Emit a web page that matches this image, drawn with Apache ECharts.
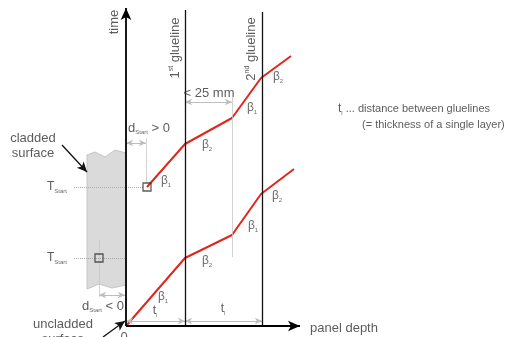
<!DOCTYPE html>
<html>
<head>
<meta charset="utf-8">
<script src="https://cdn.jsdelivr.net/npm/echarts@6/dist/echarts.min.js"></script>
<style>
  html, body { margin: 0; padding: 0; background: #fff; }
  #main { width: 518px; height: 337px; }
</style>
</head>
<body>
<div id="main"></div>
<script>
// depth (x) and time (y) in drawing units, origin = uncladded surface at time 0
const gluelineX = [59, 136];
const gluelineTop = [316, 314];
const lowerCurve = [[0, 0], [59, 68], [106, 91], [135, 132], [168, 157]];
const upperCurve = [[21, 139], [59, 182], [106, 208], [135, 248], [165, 270]];
const startPoints = [[21, 139], [-27, 68]];
const claddedOutline = [[-39, 171], [-31, 174], [-21, 169], [-11, 176], [0, 173],
  [0, 41], [-14, 38], [-27, 42], [-39, 37]];

// lines: [x1, y1, x2, y2]
const axisLines = [[0, 0, 0, 318], [0, 0, 174, 0]];
const pointerLines = [[-64, 181, -39, 154], [-23, -11, -1, 5]];
const dimLines = [[0, 183, 20, 183], [-27, 31, -1, 31], [59, 224, 106, 224], [0, 5, 59, 5], [59, 5, 136, 5]];
const extLines = [[20, 188, 20, 143], [-27, 86, -27, 29], [106, 229, 106, 69]];
const tStartLines = [[-52, 139, 17, 139], [-52, 68, -1, 68]];

// labels: [x, y, rich text, align, rotate]
const labels = [
  [-12, 304, '{n|time}', 'center', 90],
  [49, 278, '{n|1}{sup|st}{n| glueline}', 'center', 90],
  [125, 277, '{n|2}{sup|nd}{n| glueline}', 'center', 90],
  [83, 233, '{n|< 25 mm}', 'center', 0],
  [212, 217, '{t|t}{sub|l}{r| ... distance between gluelines}', 'left', 0],
  [236, 201, '{r|(= thickness of a single layer)}', 'left', 0],
  [-93, 180, '{n|cladded}\n{n|surface}', 'center', 0],
  [2, 198, '{n|d}{sub|Start}{n| > 0}', 'left', 0],
  [-44, 20, '{n|d}{sub|Start}{n| < 0}', 'left', 0],
  [-79, 139, '{t|T}{sub|Start}', 'left', 0],
  [-79, 68, '{t|T}{sub|Start}', 'left', 0],
  [-63, -6, '{n|uncladded}\n{n|surface}', 'center', 0],
  [-2, -11, '{n|0}', 'center', 0],
  [184, -2, '{n|panel depth}', 'left', 0],
  [29, 15, '{t|t}{sub|l}', 'center', 0],
  [97, 17, '{t|t}{sub|l}', 'center', 0],
  [37, 29, '{b|β}{sub|1}', 'center', 0],
  [81, 65, '{b|β}{sub|2}', 'center', 0],
  [127, 100, '{b|β}{sub|1}', 'center', 0],
  [151, 130, '{b|β}{sub|2}', 'center', 0],
  [40, 145, '{b|β}{sub|1}', 'center', 0],
  [81, 181, '{b|β}{sub|2}', 'center', 0],
  [126, 218, '{b|β}{sub|1}', 'center', 0],
  [152, 249, '{b|β}{sub|2}', 'center', 0],
];

const font = 'Liberation Sans';
const rich = {
  n: { fontFamily: font, fontSize: 13, color: '#333', lineHeight: 15 },
  t: { fontFamily: font, fontSize: 12, color: '#333', lineHeight: 15 },
  r: { fontFamily: font, fontSize: 11, color: '#333', lineHeight: 15 },
  b: { fontFamily: font, fontSize: 12, color: '#444', lineHeight: 15 },
  sub: { fontFamily: font, fontSize: 6, color: '#444', verticalAlign: 'bottom', lineHeight: 7 },
  sup: { fontFamily: font, fontSize: 7, color: '#333', verticalAlign: 'top', lineHeight: 8 },
};

const toPairs = (list) => list.map(l => [{ coord: [l[0], l[1]] }, { coord: [l[2], l[3]] }]);

function lineGroup(list, color, width, symbol, symbolSize, type) {
  return {
    type: 'line', data: [], silent: true,
    markLine: {
      silent: true, animation: false,
      symbol: symbol, symbolSize: symbolSize,
      label: { show: false },
      lineStyle: { color: color, width: width, type: type || 'solid' },
      emphasis: { disabled: true },
      data: toPairs(list),
    },
  };
}

const chart = echarts.init(document.getElementById('main'));

chart.setOption({
  animation: false,
  grid: { left: 0, right: 0, top: 0, bottom: 0 },
  xAxis: { type: 'value', min: -126, max: 392, show: false },
  yAxis: { type: 'value', min: -11, max: 326, show: false },
  series: [
    {
      type: 'custom', silent: true,
      data: [0],
      renderItem: (params, api) => ({
        type: 'polygon',
        shape: { points: claddedOutline.map(p => api.coord(p)) },
        style: { fill: '#dadada', stroke: '#c4c4c4', lineWidth: 1 },
      }),
    },
    lineGroup(extLines, '#c8c8c8', 0.8, ['none', 'none'], 0),
    lineGroup(tStartLines, '#aaaaaa', 1, ['none', 'none'], 0, 'dotted'),
    lineGroup(dimLines, '#bdbdbd', 1, ['arrow', 'arrow'], [5, 7]),
    {
      type: 'line', data: [], silent: true,
      markLine: {
        silent: true, animation: false, symbol: ['none', 'none'],
        label: { show: false },
        lineStyle: { color: '#111', width: 1.3, type: 'solid' },
        data: gluelineX.map((x, i) => [{ coord: [x, 0] }, { coord: [x, gluelineTop[i]] }]),
      },
    },
    lineGroup(axisLines, '#000', 1.8, ['none', 'arrow'], [8, 12]),
    lineGroup(pointerLines, '#111', 1.3, ['none', 'arrow'], [7, 10]),
    {
      type: 'line', data: lowerCurve, showSymbol: false, silent: true,
      lineStyle: { color: '#e0261c', width: 2 },
    },
    {
      type: 'line', data: upperCurve, showSymbol: false, silent: true,
      lineStyle: { color: '#e0261c', width: 2 },
    },
    {
      type: 'scatter', data: startPoints, symbol: 'rect', symbolSize: 8, silent: true,
      itemStyle: { color: 'rgba(0,0,0,0)', borderColor: '#333', borderWidth: 1.3 },
      z: 5,
    },
    {
      type: 'scatter', symbolSize: 0, silent: true, clip: false, z: 6,
      data: labels.map(l => ({
        value: [l[0], l[1]],
        label: {
          show: true, position: 'inside', formatter: l[2],
          align: l[3], verticalAlign: 'middle', rotate: l[4], rich: rich,
        },
      })),
    },
  ],
});
</script>
</body>
</html>
